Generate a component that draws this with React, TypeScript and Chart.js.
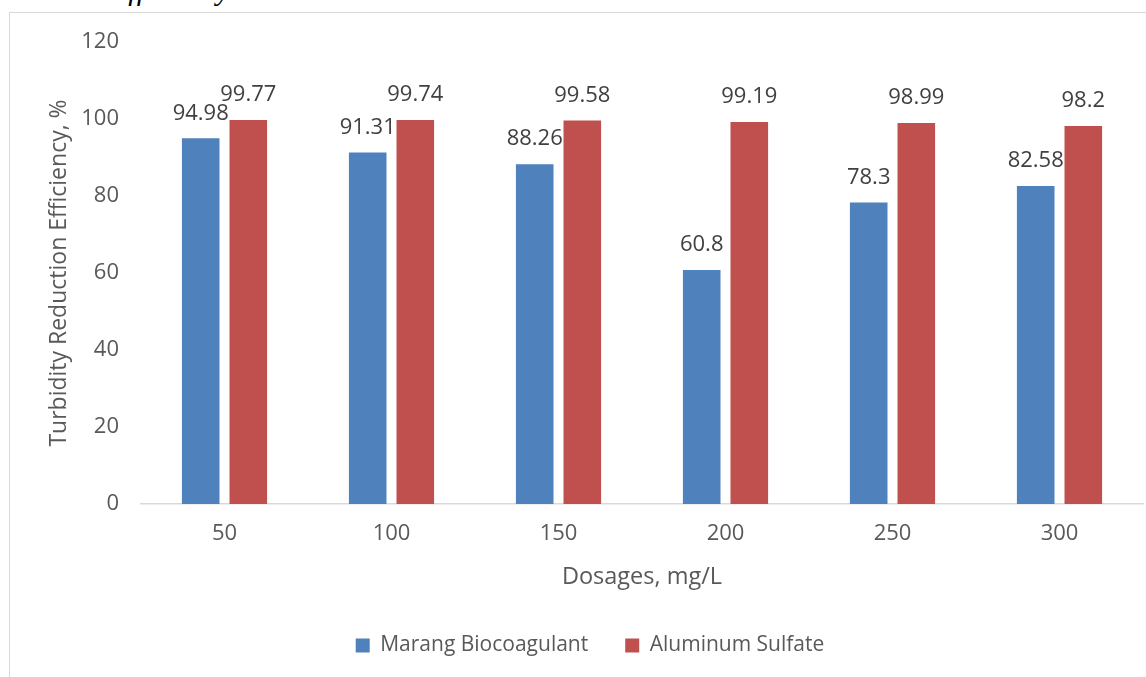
import React, { useEffect, useRef } from "react";
import { Chart, registerables } from "chart.js";

Chart.register(...registerables);

const categories = ["50", "100", "150", "200", "250", "300"];
const marangValues = [94.98, 91.31, 88.26, 60.8, 78.3, 82.58];
const alumValues = [99.77, 99.74, 99.58, 99.19, 98.99, 98.2];
const seriesNames = ["Marang Biocoagulant", "Aluminum Sulfate"];
const yTicks = [0, 20, 40, 60, 80, 100, 120];

const FONT = "'Open Sans', 'Noto Sans', sans-serif";

const dataLabelPlugin = {
  id: "dataLabels",
  afterDatasetsDraw(chart: any) {
    const ctx = chart.ctx;
    ctx.save();
    ctx.font = `22px ${FONT}`;
    ctx.fillStyle = "#404040";
    ctx.textAlign = "center";
    ctx.textBaseline = "middle";
    chart.data.datasets.forEach((ds: any, di: number) => {
      const meta = chart.getDatasetMeta(di);
      meta.data.forEach((bar: any, i: number) => {
        ctx.fillText(String(ds.data[i]), bar.x, bar.y - 25);
      });
    });
    ctx.restore();
  },
};

export default function App() {
  const ref = useRef<HTMLCanvasElement>(null);
  useEffect(() => {
    const chart = new Chart(ref.current!, {
      type: "bar",
      data: {
        labels: categories,
        datasets: [
          {
            label: seriesNames[0],
            data: marangValues,
            backgroundColor: "#4F81BD",
            categoryPercentage: 0.57,
            barPercentage: 0.79,
          },
          {
            label: seriesNames[1],
            data: alumValues,
            backgroundColor: "#C0504D",
            categoryPercentage: 0.57,
            barPercentage: 0.79,
          },
        ],
      },
      options: {
        responsive: false,
        animation: false,
        devicePixelRatio: 1,
        layout: { padding: { left: 37, right: 3, top: 42, bottom: 11 } },
        plugins: {
          tooltip: { enabled: false },
          legend: {
            position: "bottom",
            labels: {
              boxWidth: 14,
              boxHeight: 14,
              padding: 37,
              color: "#595959",
              font: { family: FONT, size: 21 },
            },
          },
        },
        scales: {
          x: {
            grid: { display: false, drawTicks: false },
            border: { display: true, color: "#d9d9d9", width: 1.5 },
            ticks: { color: "#595959", font: { family: FONT, size: 22 }, padding: 17 },
            title: {
              display: true,
              text: "Dosages, mg/L",
              color: "#595959",
              font: { family: FONT, size: 23.5, lineHeight: 1.2 },
              padding: { top: 0, bottom: 7 },
            },
            afterFit: (s: any) => {
              s.height = 94;
            },
          },
          y: {
            min: 0,
            max: 120,
            afterBuildTicks: (s: any) => {
              s.ticks = yTicks.map((v) => ({ value: v }));
            },
            grid: { display: false, drawTicks: false },
            border: { display: false },
            ticks: { color: "#595959", font: { family: FONT, size: 22 }, padding: 22 },
            title: {
              display: true,
              text: "Turbidity Reduction Efficiency, %",
              color: "#595959",
              font: { family: FONT, size: 23, lineHeight: 1.2 },
              padding: { top: 9, bottom: 0 },
            },
            afterFit: (s: any) => {
              s.width = 104;
            },
          },
        },
      },
      plugins: [dataLabelPlugin],
    });
    return () => chart.destroy();
  }, []);

  return (
    <div style={{ position: "fixed", inset: 0, overflow: "hidden", background: "#fff" }}>
      <div
        style={{
          position: "absolute",
          left: 110,
          top: -25,
          font: "italic 30px 'Liberation Serif', 'DejaVu Serif', serif",
          lineHeight: "30px",
          color: "#000",
          whiteSpace: "nowrap",
        }}
      >
        Efficiency
      </div>
      <div style={{ position: "absolute", left: 9, top: 12, width: 2000, height: 1, background: "#d9d9d9" }} />
      <div style={{ position: "absolute", left: 9, top: 12, width: 1, height: 2000, background: "#d9d9d9" }} />
      <canvas
        ref={ref}
        width={1146}
        height={677}
        style={{ position: "absolute", left: 0, top: 0, width: 1146, height: 677 }}
      />
    </div>
  );
}
